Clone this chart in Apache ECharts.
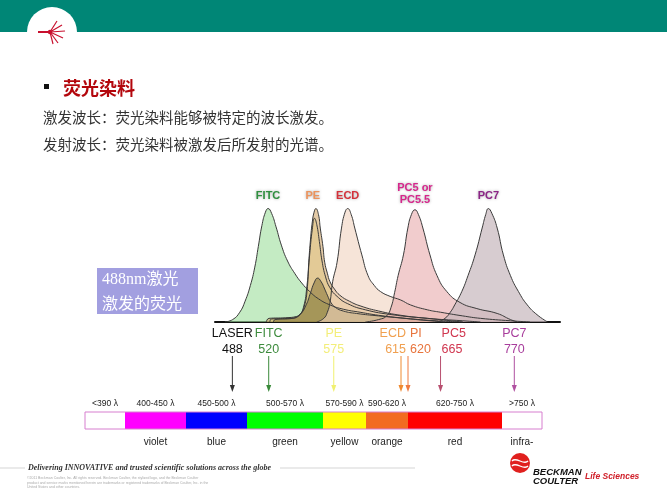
<!DOCTYPE html>
<html><head><meta charset="utf-8">
<script src="https://cdn.jsdelivr.net/npm/echarts@6/dist/echarts.min.js"></script>
<style>html,body{margin:0;padding:0;background:#fff}#c{width:667px;height:500px}</style>
</head><body><div id="c"></div>
<script>
// ---- emission spectra: [wavelength nm, relative intensity] ----
const fitc = [[471,0],[480,2],[488,8],[494,17],[500,30],[505,45],[509,62],[513,79],[517,90],[520,93],[524,89],[529,78],[535,63],[542,50],[550,40],[558,32],[567,25],[577,19],[590,14],[605,10.5],[624,8],[645,5.5],[668,3.5],[695,1.5],[720,0]];
const pe = [[518,0],[521,3],[540,3.5],[552,4.5],[557,7],[561,13],[564,25],[566,49],[568,68],[570,82],[572,90],[574,93],[577,88],[579,77],[582,62],[584,49],[587,40],[590,33],[595,27],[601,22],[612,17],[625,13],[645,9],[670,5.5],[700,3],[740,1],[760,0]];
const peInner = [[522,0],[524,2.5],[545,3],[555,5.5],[560,12],[564,30],[567,55],[570,76],[572.5,85],[575,80],[578,66],[581,50],[585,37],[590,28],[598,21],[610,15],[630,10],[660,6],[700,3],[740,0]];
const piHump = [[526,0],[528,2],[548,3],[556,6],[563,14],[568,24],[572,32],[576,36],[580,33],[584,27],[587,22],[591,16],[596,12],[605,9],[620,7],[645,5],[675,3],[710,1],[740,0]];
const ecd = [[575,0],[583,3],[587,8],[590,16],[593,33],[598,49],[603,77],[607,90],[610,93],[614,88],[618,77],[626,55],[633,38],[640,30],[647,25],[658,21],[670,18],[681,14],[700,10],[715,8],[740,5],[760,3],[794,1],[816,0]];
const pc5 = [[630,0],[645,2],[654,5],[659,12],[663,24],[667,38],[673,55],[678,77],[682,88],[686,92],[690,88],[695,77],[703,55],[711,38],[722,25],[737,16],[756,11],[779,7],[794,2],[802,0]];
const pc7 = [[712,0],[720,3],[726,8],[731,14],[739,25],[746,38],[754,55],[762,77],[766,88],[769,93],[773,89],[779,77],[786,55],[794,38],[803,25],[813,14],[824,6],[836,0]];

// ---- visible spectrum bands ----
const bandLabels = ['<390 \u03bb','400-450 \u03bb','450-500 \u03bb','500-570 \u03bb','570-590 \u03bb','590-620 \u03bb','620-750 \u03bb','>750 \u03bb'];
const bandNames = ['','violet','blue','green','yellow','orange','red','infra-'];
const bandLo = [340,400,450,500,570,590,620,750];
const bandHi = [400,450,500,570,590,620,750,815];
const bandWeight = [40,61,61,76,43,42,94,40];

// ---- excitation / emission markers ----
const markerNames = ['LASER','FITC','PE','ECD','PI','PC5','PC7'];
const markerNm = [488,520,575,615,620,665,770];

const bandColors = ['#ffffff','#ff00ff','#0000ff','#00ff00','#ffff00','#f26b21','#ff0000','#ffffff'];
const markerText = ['#111','#3d8b3d','#f3ee7a','#f0a050','#e8743c','#d0364f','#a83d9c'];
const markerArrow = ['#333','#3a8a3a','#f0f070','#f08a30','#f07a40','#b85070','#b050a0'];
const markerAlign = {ECD:['right',5], PI:['left',2], PC5:['left',1]};

const cum = [0];
bandWeight.forEach((w,i)=>cum.push(cum[i]+w));
const total = cum[cum.length-1];
function toAxis(nm){
  for(let i=0;i<bandLo.length;i++){
    if(nm>=bandLo[i] && nm<=bandHi[i]) return cum[i]+(nm-bandLo[i])/(bandHi[i]-bandLo[i])*bandWeight[i];
  }
  return nm<bandLo[0]?0:total;
}

const curves = [
  {name:'FITC', data:fitc, fill:'rgba(160,222,158,0.62)', label:'FITC', color:'#2f8f3f'},
  {name:'PE', data:pe, fill:'rgba(205,160,95,0.55)', label:'PE', color:'#ec935c', off:-3},
  {name:'PE2', data:peInner, fill:'rgba(225,200,120,0.35)'},
  {name:'PI', data:piHump, fill:'rgba(110,95,35,0.45)'},
  {name:'ECD', data:ecd, fill:'rgba(240,210,190,0.6)', label:'ECD', color:'#d4313a'},
  {name:'PC5', data:pc5, fill:'rgba(232,170,172,0.6)', label:'PC5 or\nPC5.5', color:'#d6268c', dy:-16},
  {name:'PC7', data:pc7, fill:'rgba(200,185,190,0.72)', label:'PC7', color:'#8b2586'}
];

const series = curves.map(c=>{
  const s = {
    type:'line', name:c.name, data:c.data, xAxisIndex:0, yAxisIndex:0,
    smooth:0.5, showSymbol:false, silent:true,
    lineStyle:{color:'#3a3a3a', width:1},
    areaStyle:{color:c.fill, opacity:1}
  };
  if(c.label){
    s.markPoint = {symbol:'circle', symbolSize:0, silent:true, data:[{type:'max'}],
      label:{show:true, formatter:c.label, color:c.color, fontSize:11, fontWeight:'bold',
        fontFamily:'Liberation Sans, Arial', lineHeight:12, offset:[c.off||0, c.dy||-13],
        textShadowColor:'rgba(0,0,0,0.35)', textShadowBlur:3}};
  }
  return s;
});

series.push({
  type:'custom', xAxisIndex:1, yAxisIndex:1, silent:true, clip:false,
  data: bandLabels.map((b,i)=>[cum[i], cum[i+1], i]),
  renderItem:(params, api)=>{
    const i = api.value(2);
    const a = api.coord([api.value(0),1]), b = api.coord([api.value(1),0]);
    const cx = (a[0]+b[0])/2;
    return {type:'group', children:[
      {type:'rect', shape:{x:a[0], y:a[1], width:b[0]-a[0], height:b[1]-a[1]}, style:{fill:bandColors[i]}},
      {type:'text', style:{text:bandLabels[i], x:cx, y:a[1]-8, textAlign:'center', textVerticalAlign:'middle', fontSize:8.5, fontFamily:'Liberation Sans, Arial', fill:'#222'}},
      {type:'text', style:{text:bandNames[i], x:cx, y:b[1]+13, textAlign:'center', textVerticalAlign:'middle', fontSize:10, fontFamily:'Liberation Sans, Arial', fill:'#222'}}
    ]};
  }
});
series.push({
  type:'custom', xAxisIndex:1, yAxisIndex:1, silent:true, clip:false,
  data:[[0,total]],
  renderItem:(params, api)=>{
    const a = api.coord([api.value(0),1]), b = api.coord([api.value(1),0]);
    return {type:'rect', shape:{x:a[0], y:a[1], width:b[0]-a[0], height:b[1]-a[1]}, style:{fill:'none', stroke:'#d77fcf', lineWidth:1}};
  }
});
series.push({
  type:'custom', xAxisIndex:1, yAxisIndex:1, silent:true, clip:false,
  data: markerNm.map((nm,i)=>[toAxis(nm), i, nm]),
  renderItem:(params, api)=>{
    const i = api.value(1);
    const p = api.coord([api.value(0),1]);
    const x = p[0], top = p[1];
    const al = markerAlign[markerNames[i]] || ['center',0];
    const tx = x + al[1];
    return {type:'group', children:[
      {type:'line', shape:{x1:x, y1:top-56, x2:x, y2:top-25}, style:{stroke:markerArrow[i], lineWidth:1}},
      {type:'polygon', shape:{points:[[x-2.5,top-27],[x+2.5,top-27],[x,top-20]]}, style:{fill:markerArrow[i]}},
      {type:'text', style:{text:markerNames[i], x:tx, y:top-78, textAlign:al[0], textVerticalAlign:'middle', fontSize:12.5, fontFamily:'Liberation Sans, Arial', fill:markerText[i]}},
      {type:'text', style:{text:String(api.value(2)), x:tx, y:top-62, textAlign:al[0], textVerticalAlign:'middle', fontSize:12.5, fontFamily:'Liberation Sans, Arial', fill:markerText[i]}}
    ]};
  }
});

const cjk = "'Noto Sans CJK SC'";
const graphic = [
  {type:'rect', shape:{x:0,y:0,width:667,height:32}, style:{fill:'#008676'}, silent:true},
  {type:'circle', shape:{cx:52,cy:32,r:25}, style:{fill:'#fff'}, silent:true},
  {type:'line', shape:{x1:38,y1:32,x2:50,y2:32}, style:{stroke:'#c8102e', lineWidth:2}},
  {type:'line', shape:{x1:50,y1:32,x2:57,y2:21}, style:{stroke:'#c8102e', lineWidth:1.2}},
  {type:'line', shape:{x1:50,y1:32,x2:62,y2:25}, style:{stroke:'#c8102e', lineWidth:1.2}},
  {type:'line', shape:{x1:50,y1:32,x2:65,y2:31}, style:{stroke:'#c8102e', lineWidth:1.2}},
  {type:'line', shape:{x1:50,y1:32,x2:63,y2:38}, style:{stroke:'#c8102e', lineWidth:1.2}},
  {type:'line', shape:{x1:50,y1:32,x2:58,y2:43}, style:{stroke:'#c8102e', lineWidth:1.2}},
  {type:'line', shape:{x1:50,y1:32,x2:53,y2:44}, style:{stroke:'#c8102e', lineWidth:1.2}},
  {type:'circle', shape:{cx:50,cy:32,r:2.2}, style:{fill:'#c8102e'}},
  {type:'rect', shape:{x:44,y:84,width:5,height:5}, style:{fill:'#111'}},
  {type:'text', style:{text:'荧光染料', x:63, y:88, textVerticalAlign:'middle', font:"bold 18px "+cjk, fill:'#b3060c'}},
  {type:'text', style:{text:'激发波长：荧光染料能够被特定的波长激发。', x:43, y:117, textVerticalAlign:'middle', font:"14.5px "+cjk, fill:'#333'}},
  {type:'text', style:{text:'发射波长：荧光染料被激发后所发射的光谱。', x:43, y:144, textVerticalAlign:'middle', font:"14.5px "+cjk, fill:'#333'}},
  {type:'rect', shape:{x:97,y:268,width:101,height:46}, style:{fill:'#a29fe0'}},
  {type:'text', style:{text:'488nm激光', x:102, y:280, textVerticalAlign:'middle', font:"16px 'Liberation Serif', "+cjk, fill:'#fff'}},
  {type:'text', style:{text:'激发的荧光', x:102, y:303, textVerticalAlign:'middle', font:"16px "+cjk, fill:'#fff'}},
  {type:'line', shape:{x1:0,y1:468,x2:25,y2:468}, style:{stroke:'#bbb', lineWidth:0.6}},
  {type:'line', shape:{x1:280,y1:468,x2:415,y2:468}, style:{stroke:'#bbb', lineWidth:0.6}},
  {type:'text', style:{text:'Delivering INNOVATIVE and trusted scientific solutions across the globe', x:28, y:468, textVerticalAlign:'middle', font:"italic bold 8px 'Liberation Serif'", fill:'#333'}},
  {type:'text', style:{text:'\u00a92011 Beckman Coulter, Inc. All rights reserved. Beckman Coulter, the stylized logo, and the Beckman Coulter\nproduct and service marks mentioned herein are trademarks or registered trademarks of Beckman Coulter, Inc. in the\nUnited States and other countries.', x:27, y:476, font:"3.5px 'Liberation Sans'", lineHeight:4.5, fill:'#aaa'}},
  {type:'circle', shape:{cx:520,cy:463,r:10}, style:{fill:'#e0201e'}},
  {type:'bezierCurve', shape:{x1:512,y1:461,x2:528,y2:461,cpx1:516,cpy1:456,cpx2:524,cpy2:466}, style:{stroke:'#fff', lineWidth:1.3, fill:'none'}},
  {type:'bezierCurve', shape:{x1:512,y1:466,x2:528,y2:466,cpx1:516,cpy1:461,cpx2:524,cpy2:471}, style:{stroke:'#fff', lineWidth:1.3, fill:'none'}},
  {type:'text', style:{text:'BECKMAN', x:533, y:472, textVerticalAlign:'middle', font:"italic bold 9.5px 'Liberation Sans'", fill:'#111'}},
  {type:'text', style:{text:'COULTER', x:533, y:481, textVerticalAlign:'middle', font:"italic bold 9.5px 'Liberation Sans'", fill:'#111'}},
  {type:'text', style:{text:'Life Sciences', x:585, y:477, textVerticalAlign:'middle', font:"italic bold 8.5px 'Liberation Sans'", fill:'#d0202a'}}
];

const chart = echarts.init(document.getElementById('c'), null, {renderer:'canvas'});
chart.setOption({
  animation:false,
  backgroundColor:'#fff',
  grid:[{left:215, top:200, width:345, height:122}, {left:85, top:412, width:457, height:17}],
  xAxis:[
    {type:'value', gridIndex:0, min:460, max:850, axisLine:{show:true, lineStyle:{color:'#111', width:2}}, axisTick:{show:false}, axisLabel:{show:false}, splitLine:{show:false}},
    {type:'value', gridIndex:1, min:0, max:total, show:false}
  ],
  yAxis:[
    {type:'value', gridIndex:0, min:0, max:100, show:false},
    {type:'value', gridIndex:1, min:0, max:1, show:false}
  ],
  graphic: graphic,
  series: series
});
</script></body></html>
